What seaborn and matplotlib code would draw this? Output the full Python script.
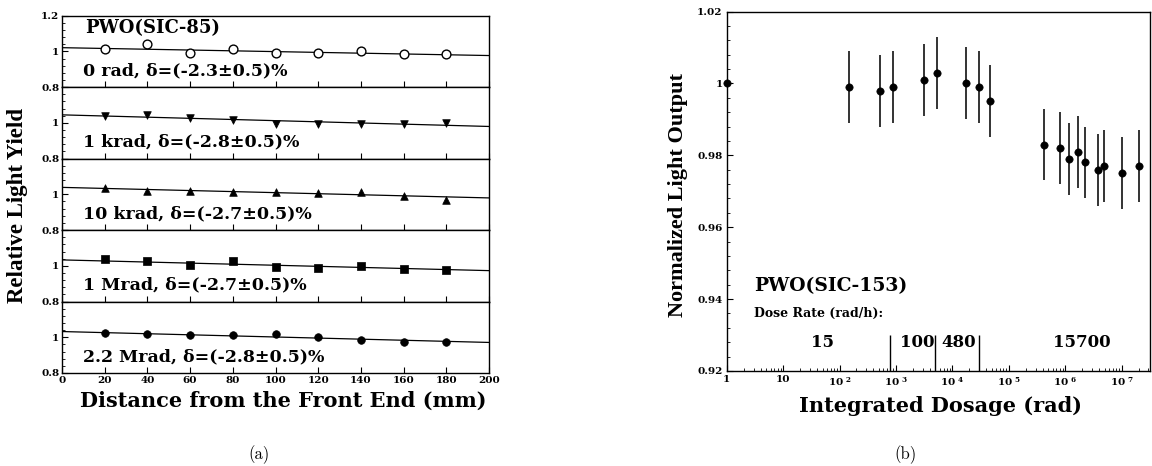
import matplotlib
matplotlib.use('Agg')
import numpy as np
import pandas as pd
import matplotlib.pyplot as plt
from matplotlib.ticker import MultipleLocator, FixedLocator, FixedFormatter, LogLocator, NullFormatter
import seaborn as sns

# (a) relative light yield along the crystal, one row per dose
distance = [20, 40, 60, 80, 100, 120, 140, 160, 180]
dose_names = ['0 rad', '1 krad', '10 krad', '1 Mrad', '2.2 Mrad']
slopes = ['(-2.3\u00b10.5)', '(-2.8\u00b10.5)', '(-2.7\u00b10.5)', '(-2.7\u00b10.5)', '(-2.8\u00b10.5)']
yield_0rad = [1.014, 1.042, 0.990, 1.012, 0.993, 0.993, 1.003, 0.984, 0.984]
yield_1krad = [1.041, 1.046, 1.026, 1.015, 0.996, 0.992, 0.995, 0.995, 1.002]
yield_10krad = [1.033, 1.020, 1.020, 1.011, 1.015, 1.005, 1.015, 0.992, 0.970]
yield_1mrad = [1.037, 1.029, 1.007, 1.028, 0.994, 0.988, 1.001, 0.983, 0.977]
yield_22mrad = [1.023, 1.019, 1.012, 1.012, 1.019, 1.002, 0.986, 0.973, 0.975]
fit_front = [1.021, 1.045, 1.039, 1.033, 1.032]   # fitted line at 0 mm
fit_end = [0.977, 0.980, 0.980, 0.973, 0.971]     # fitted line at 200 mm

# (b) normalized light output vs integrated dose
dose = [1, 148, 516, 876, 3200, 5450, 17800, 30300, 46400,
        4.2e5, 8.1e5, 1.18e6, 1.66e6, 2.28e6, 3.87e6, 4.9e6, 1.0e7, 2.0e7]
light = [1.000, 0.999, 0.998, 0.999, 1.001, 1.003, 1.000, 0.999, 0.995,
         0.983, 0.982, 0.979, 0.981, 0.978, 0.976, 0.977, 0.975, 0.977]
light_err = [0.0, 0.010, 0.010, 0.010, 0.010, 0.010, 0.010, 0.010, 0.010,
             0.010, 0.010, 0.010, 0.010, 0.010, 0.010, 0.010, 0.010, 0.010]
rate_edges = [790, 5000, 30300]
rates = ['15', '100', '480', '15700']
rate_dose = [50, 2400, 13000, 2.0e6]

sns.set_theme(style='ticks')
plt.rcParams['font.family'] = ['DejaVu Serif']
plt.rcParams['font.weight'] = 'bold'
plt.rcParams['mathtext.fontset'] = 'dejavuserif'
plt.rcParams['mathtext.default'] = 'bf'
plt.rcParams['axes.linewidth'] = 1.0
plt.rcParams['axes.edgecolor'] = 'black'
plt.rcParams['text.color'] = 'black'
plt.rcParams['xtick.color'] = 'black'
plt.rcParams['ytick.color'] = 'black'
plt.rcParams['axes.labelcolor'] = 'black'

fig = plt.figure(figsize=(11.52, 4.66), dpi=100)

# ---- panel (a)
series = [yield_0rad, yield_1krad, yield_10krad, yield_1mrad, yield_22mrad]
markers = ['o', 'v', '^', 's', 'o']
x0, w = 0.0538, 0.3707
bottom, h = 0.1996, 0.15334
for k in range(5):
    ax = fig.add_axes([x0, bottom + (4 - k) * h, w, h])
    df = pd.DataFrame({'d': distance, 'y': series[k]})
    sns.lineplot(x=[0, 200], y=[fit_front[k], fit_end[k]], ax=ax, color='black', lw=0.9)
    if k == 0:
        sns.scatterplot(data=df, x='d', y='y', ax=ax, marker='o', s=40,
                        color='white', edgecolor='black', linewidth=1.0, zorder=3)
    else:
        sns.scatterplot(data=df, x='d', y='y', ax=ax, marker=markers[k], s=30,
                        color='black', edgecolor='black', linewidth=0.5, zorder=3)
    ax.set_xlim(0, 200)
    ax.set_ylim(0.8, 1.2)
    ax.xaxis.set_major_locator(MultipleLocator(20))
    ax.yaxis.set_major_locator(FixedLocator([0.8, 1.0, 1.2]))
    ax.yaxis.set_major_formatter(FixedFormatter(['0.8', '1', '1.2' if k == 0 else '']))
    ax.yaxis.set_minor_locator(MultipleLocator(0.04))
    ax.tick_params(direction='in', length=4, width=0.8, labelsize=7.5, pad=2)
    ax.tick_params(which='minor', direction='in', length=2, width=0.6)
    ax.set_xlabel('')
    ax.set_ylabel('')
    if k < 4:
        ax.tick_params(labelbottom=False)
    ax.text(10, 0.892, f'{dose_names[k]}, \u03b4={slopes[k]}%', fontsize=12.5,
            fontweight='bold', va='center', ha='left')
    if k == 0:
        ax.text(11, 1.13, 'PWO(SIC-85)', fontsize=13, fontweight='bold', va='center', ha='left')

fig.text(0.0156, 0.558, 'Relative Light Yield', rotation=90, ha='center', va='center',
         family=['Liberation Serif'], fontweight='bold', fontsize=16.5)
fig.text(0.2457, 0.1395, 'Distance from the Front End (mm)', ha='center', va='center',
         fontsize=15, fontweight='bold')
fig.text(0.2248, 0.0237, '(a)', ha='center', va='center', family=['cmr10', 'DejaVu Serif'],
         fontweight='normal', fontsize=12)

# ---- panel (b)
axb = fig.add_axes([0.6308, 0.2039, 0.9983 - 0.6308, 0.9753 - 0.2039])
axb.set_xscale('log')
axb.vlines(dose, np.array(light) - np.array(light_err), np.array(light) + np.array(light_err),
           color='#333333', lw=1.4, zorder=2)
sns.scatterplot(x=dose, y=light, ax=axb, marker='o', s=28, color='black',
                edgecolor='black', zorder=3, clip_on=False)
axb.vlines(rate_edges, 0.92, 0.930, color='black', lw=1.0)
for lab, xd in zip(rates, rate_dose):
    axb.text(xd, 0.928, lab, ha='center', va='center', fontsize=12, fontweight='bold')
axb.text(3.1, 0.9435, 'PWO(SIC-153)', fontsize=13.5, fontweight='bold', va='center', ha='left')
axb.text(3.1, 0.9359, 'Dose Rate (rad/h):', fontsize=9, fontweight='bold', va='center', ha='left')
axb.set_xlim(1, 3.2e7)
axb.set_ylim(0.92, 1.02)
axb.xaxis.set_major_locator(FixedLocator([1, 10, 1e2, 1e3, 1e4, 1e5, 1e6, 1e7]))
axb.xaxis.set_major_formatter(FixedFormatter(['1', '10', '$10^{\\ 2}$', '$10^{\\ 3}$', '$10^{\\ 4}$',
                                              '$10^{\\ 5}$', '$10^{\\ 6}$', '$10^{\\ 7}$']))
axb.xaxis.set_minor_locator(LogLocator(base=10, subs=np.arange(2, 10), numticks=20))
axb.xaxis.set_minor_formatter(NullFormatter())
axb.yaxis.set_major_locator(FixedLocator([0.92, 0.94, 0.96, 0.98, 1.0, 1.02]))
axb.yaxis.set_major_formatter(FixedFormatter(['0.92', '0.94', '0.96', '0.98', '1', '1.02']))
axb.yaxis.set_minor_locator(MultipleLocator(0.004))
axb.tick_params(direction='in', length=4, width=0.8, labelsize=7.5, pad=3)
axb.tick_params(which='minor', direction='in', length=2, width=0.6)
axb.set_xlabel('')
axb.set_ylabel('')

fig.text(0.5885, 0.5815, 'Normalized Light Output', rotation=90, ha='center', va='center',
         family=['Liberation Serif'], fontweight='bold', fontsize=16)
fig.text(0.8168, 0.1288, 'Integrated Dosage (rad)', ha='center', va='center',
         fontsize=15, fontweight='bold')
fig.text(0.7856, 0.0237, '(b)', ha='center', va='center', family=['cmr10', 'DejaVu Serif'],
         fontweight='normal', fontsize=12)

fig.savefig('out.png', dpi=100)
